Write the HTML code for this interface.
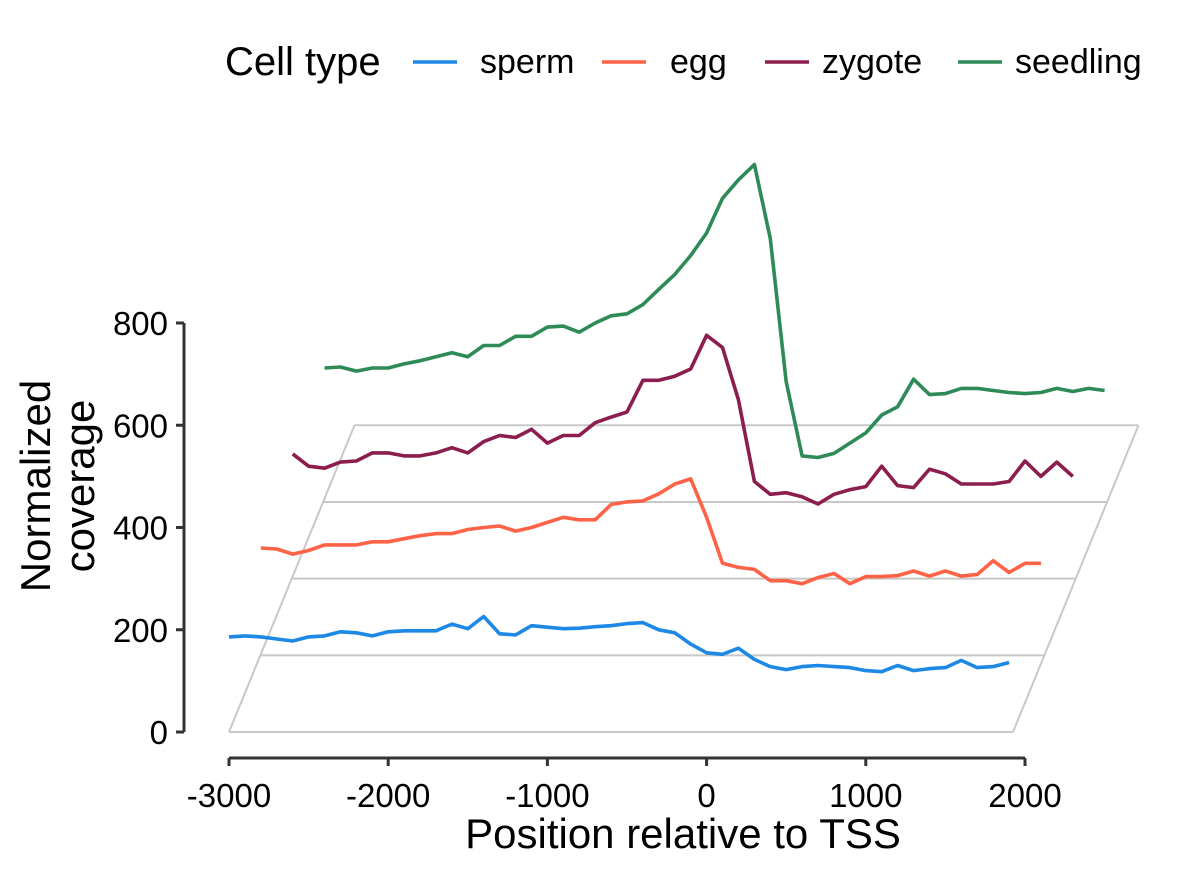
<!DOCTYPE html>
<html><head><meta charset="utf-8"><style>
html,body{margin:0;padding:0;background:#fff;}
svg{display:block;font-family:"Liberation Sans",Arial,sans-serif;}
</style></head><body>
<svg id="chart" width="1200" height="873" viewBox="0 0 1200 873">
<g id="grid"></g>
<g id="series"></g>
<g id="axes"></g>
<g>
<text x="225" y="75" font-size="40">Cell type</text>
<line x1="413" y1="62" x2="457" y2="62" stroke="#1E88E5" stroke-width="3.5"/>
<text x="480" y="73" font-size="34">sperm</text>
<line x1="602" y1="62" x2="646" y2="62" stroke="#FF6347" stroke-width="3.5"/>
<text x="670" y="73" font-size="34">egg</text>
<line x1="765" y1="62" x2="809" y2="62" stroke="#8B1E4F" stroke-width="3.5"/>
<text x="822" y="73" font-size="34">zygote</text>
<line x1="958" y1="62" x2="1002" y2="62" stroke="#2E8B57" stroke-width="3.5"/>
<text x="1015" y="73" font-size="34">seedling</text>
</g>
<text x="683" y="848" font-size="42" text-anchor="middle">Position relative to TSS</text>
<g transform="translate(50,486) rotate(-90)">
<text x="0" y="0" font-size="42" text-anchor="middle">Normalized</text>
<text x="0" y="44" font-size="42" text-anchor="middle">coverage</text>
</g>
</svg>
<script>
const positions = [];
for (let p = -3000; p <= 1900; p += 100) positions.push(p);
const seriesNames = ["sperm","egg","zygote","seedling"];
const seriesColors = ["#1E88E5","#FF6347","#8B1E4F","#2E8B57"];
const xOffsetStep = 200;
const yOffsetStep = 150;
const sperm = [186,188,186,182,178,186,188,196,194,188,196,198,198,198,211,202,226,192,190,208,205,202,203,206,208,212,214,200,194,172,155,152,164,142,128,122,128,130,128,126,120,118,130,120,124,126,140,126,128,136];
const eggDisplay = [360,358,348,355,366,366,366,372,372,378,384,388,388,396,400,403,393,400,410,420,415,415,445,450,452,466,485,495,420,330,322,318,296,296,290,302,310,290,304,304,306,315,305,315,305,308,335,312,330,330];
const zygoteDisplay = [544,520,516,528,530,546,546,540,540,546,556,546,568,580,576,592,565,580,580,605,616,626,688,688,696,710,776,752,650,490,465,468,460,446,465,474,480,520,482,478,514,505,485,485,485,490,530,500,528,500];
const seedlingDisplay = [712,714,706,712,712,720,726,734,742,734,756,756,774,774,792,794,782,800,814,818,836,866,895,932,976,1044,1080,1110,965,685,540,537,545,565,585,620,636,690,660,662,672,672,668,664,662,664,672,666,672,668];
const egg = eggDisplay.map(v => v - 150);
const zygote = zygoteDisplay.map(v => v - 300);
const seedling = seedlingDisplay.map(v => v - 450);
const seriesValues = [sperm, egg, zygote, seedling];
const xTicks = [-3000,-2000,-1000,0,1000,2000];
const yTicks = [0,200,400,600,800];

const X = v => 229 + (v + 3000) * (796 / 5000);
const Y = v => 732 - v * (409 / 800);
const NS = "http://www.w3.org/2000/svg";
function mk(tag, attrs, parent){const e=document.createElementNS(NS,tag);for(const k in attrs)e.setAttribute(k,attrs[k]);parent.appendChild(e);return e;}

const grid = document.getElementById('grid');
const slope = 126/308;
const baseW = 784;
for (let i = 0; i < 5; i++) {
  const yv = Y(i * yOffsetStep);
  const xl = 229 + (732 - yv) * slope;
  const l = mk('line',{x1:xl,y1:yv,x2:xl+baseW,y2:yv,stroke:'#c8c8c8','stroke-width':2},grid);
  
  
}
const topY = Y(4*yOffsetStep);
const le = mk('line',{x1:229,y1:732,x2:229+(732-topY)*slope,y2:topY,stroke:'#c8c8c8','stroke-width':2},grid);


const re = mk('line',{x1:229+baseW,y1:732,x2:229+(732-topY)*slope+baseW,y2:topY,stroke:'#c8c8c8','stroke-width':2},grid);



const sg = document.getElementById('series');
for (let s = 3; s >= 0; s--) {
  const pts = seriesValues[s].map((v,i) => X(positions[i] + s*xOffsetStep).toFixed(1) + ',' + Y(v + s*yOffsetStep).toFixed(1)).join(' ');
  const pl = mk('polyline',{points:pts,fill:'none',stroke:seriesColors[s],'stroke-width':3.6,'stroke-linejoin':'round'},sg);
  
  
}

const ax = document.getElementById('axes');
const ya = mk('line',{x1:184,y1:Y(800),x2:184,y2:Y(0),stroke:'#333','stroke-width':3},ax);


yTicks.forEach(t => {
  const tk = mk('line',{x1:176,y1:Y(t),x2:184,y2:Y(t),stroke:'#333','stroke-width':3},ax);
  
  
  const tx = mk('text',{x:168,y:Y(t)+12,'font-size':33,'text-anchor':'end'},ax);
  tx.textContent = t;
  
  
});
const xa = mk('line',{x1:X(-3000),y1:758,x2:X(2000),y2:758,stroke:'#333','stroke-width':3},ax);


xTicks.forEach(t => {
  const tk = mk('line',{x1:X(t),y1:758,x2:X(t),y2:766,stroke:'#333','stroke-width':3},ax);
  
  
  const tx = mk('text',{x:X(t),y:807,'font-size':33,'text-anchor':'middle'},ax);
  tx.textContent = t;
  
  
});
</script>
</body></html>
